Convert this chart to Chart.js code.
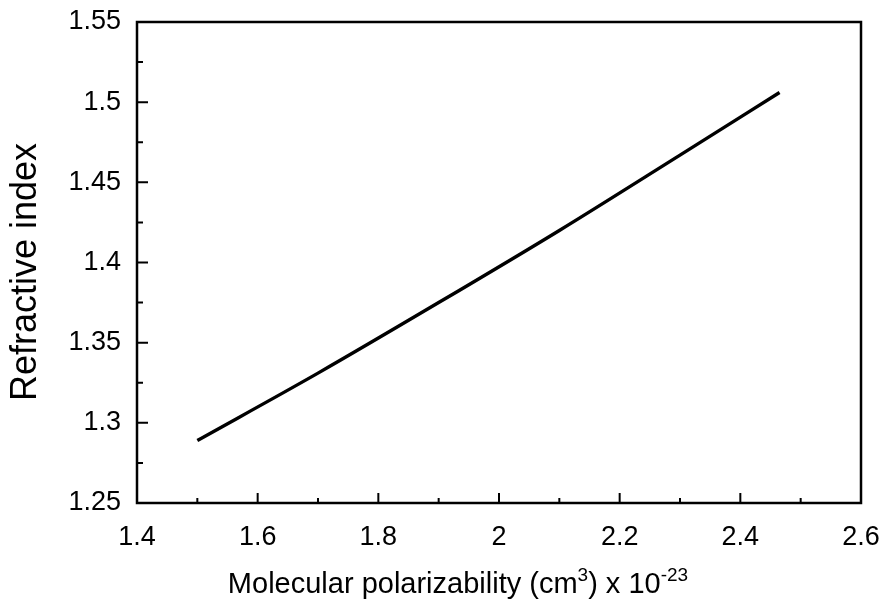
<!DOCTYPE html>
<html><head><meta charset="utf-8">
<script src="https://cdn.jsdelivr.net/npm/chart.js@4"></script>
<style>html,body{margin:0;padding:0;background:#fff}</style>
</head><body>
<canvas id="c" width="886" height="609"></canvas>
<script>
const polarizability = [1.5, 1.7, 1.9, 2.1, 2.3, 2.465];
const refractiveIndex = [1.289, 1.331, 1.375, 1.420, 1.467, 1.506];
const xTicks = [1.4, 1.6, 1.8, 2, 2.2, 2.4, 2.6];
const yTicks = [1.25, 1.3, 1.35, 1.4, 1.45, 1.5, 1.55];
const xTitleParts = [["Molecular polarizability (cm", false], ["3", true], [") x 10", false], ["-23", true]];
const yTitle = "Refractive index";

const FONT = '"Liberation Sans", Arial, sans-serif';
const mid = arr => arr.slice(0, -1).map((v, i) => (v + arr[i + 1]) / 2);

const framePlugin = {
  id: 'frame',
  afterDraw(chart) {
    const {ctx, chartArea: a, scales: {x, y}} = chart;
    ctx.save();
    ctx.strokeStyle = '#000';
    ctx.lineWidth = 2.5;
    ctx.strokeRect(a.left, a.top, a.right - a.left, a.bottom - a.top);
    ctx.lineWidth = 2;
    ctx.beginPath();
    xTicks.forEach(v => { const p = x.getPixelForValue(v); ctx.moveTo(p, a.bottom); ctx.lineTo(p, a.bottom - 10); });
    mid(xTicks).forEach(v => { const p = x.getPixelForValue(v); ctx.moveTo(p, a.bottom); ctx.lineTo(p, a.bottom - 5); });
    yTicks.forEach(v => { const p = y.getPixelForValue(v); ctx.moveTo(a.left, p); ctx.lineTo(a.left + 11, p); });
    mid(yTicks).forEach(v => { const p = y.getPixelForValue(v); ctx.moveTo(a.left, p); ctx.lineTo(a.left + 6, p); });
    ctx.stroke();

    // x-axis title with superscripts
    ctx.fillStyle = '#000';
    ctx.textBaseline = 'alphabetic';
    ctx.textAlign = 'left';
    const big = '29px ' + FONT, small = '19px ' + FONT;
    let total = 0;
    xTitleParts.forEach(([t, sup]) => { ctx.font = sup ? small : big; total += ctx.measureText(t).width; });
    let cx = a.left + 321 - total / 2;
    const base = 593;
    xTitleParts.forEach(([t, sup]) => {
      ctx.font = sup ? small : big;
      ctx.fillText(t, cx, sup ? base - 12 : base);
      cx += ctx.measureText(t).width;
    });

    // y-axis title
    ctx.font = '36px ' + FONT;
    ctx.textAlign = 'center';
    ctx.textBaseline = 'middle';
    ctx.translate(26, 272);
    ctx.rotate(-Math.PI / 2);
    ctx.fillText(yTitle, 0, 0);
    ctx.restore();
  }
};

new Chart(document.getElementById('c'), {
  type: 'line',
  data: {
    datasets: [{
      data: polarizability.map((v, i) => ({x: v, y: refractiveIndex[i]})),
      borderColor: '#000',
      borderWidth: 3.4,
      pointRadius: 0,
      cubicInterpolationMode: 'monotone',
      fill: false
    }]
  },
  options: {
    responsive: false,
    animation: false,
    devicePixelRatio: 1,
    layout: {padding: {top: 22, right: 25, left: 0, bottom: 0}},
    plugins: {legend: {display: false}, tooltip: {enabled: false}},
    scales: {
      x: {
        type: 'linear', min: 1.4, max: 2.6,
        afterBuildTicks: s => { s.ticks = xTicks.map(v => ({value: v})); },
        afterFit: s => { s.height = 106; s.paddingLeft = 0; s.paddingRight = 0; },
        grid: {display: false, drawTicks: false},
        border: {display: false},
        ticks: {color: '#000', font: {family: FONT, size: 27}, padding: 18, maxRotation: 0, autoSkip: false,
          callback: v => String(+v.toFixed(2))}
      },
      y: {
        type: 'linear', min: 1.25, max: 1.55,
        afterBuildTicks: s => { s.ticks = yTicks.map(v => ({value: v})); },
        afterFit: s => { s.width = 137; s.paddingTop = 0; s.paddingBottom = 0; },
        grid: {display: false, drawTicks: false},
        border: {display: false},
        ticks: {color: '#000', font: {family: FONT, size: 27}, padding: 16, autoSkip: false,
          callback: v => String(+v.toFixed(3))}
      }
    }
  },
  plugins: [framePlugin]
});
</script>
</body></html>
